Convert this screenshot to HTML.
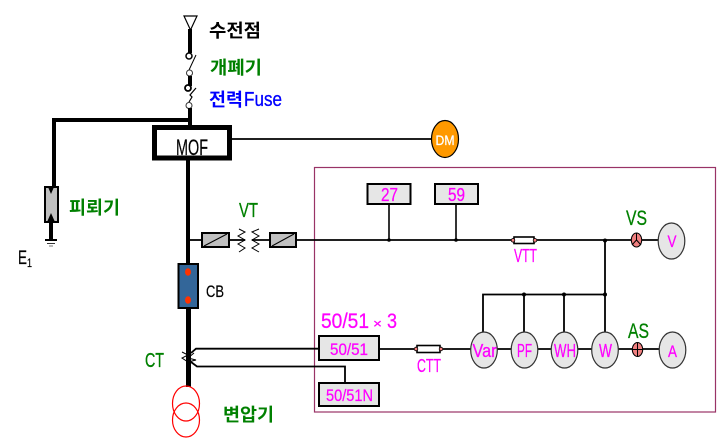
<!DOCTYPE html>
<html>
<head>
<meta charset="utf-8">
<style>
html,body{margin:0;padding:0;background:#fff;width:726px;height:443px;overflow:hidden}
svg{display:block}
text{font-family:"Liberation Sans","Noto Sans CJK KR",sans-serif}
.g{fill:#008000}
.gb{fill:#008000;font-weight:bold}
.m{fill:#ff00ff;stroke:#ff00ff;stroke-width:.25}
.k{fill:#000;stroke:#000;stroke-width:.2}
</style>
</head>
<body>
<svg width="726" height="443" viewBox="0 0 726 443" xmlns="http://www.w3.org/2000/svg">
<rect x="314.500" y="167.500" width="401" height="244.500" fill="none" stroke="#993366" stroke-width="1.200"/>

<!-- top feed -->
<polygon points="184,16 197,16 190.500,30" fill="#fff" stroke="#000" stroke-width="1.200"/>
<line x1="190" y1="29" x2="190" y2="53" stroke="#000" stroke-width="4"/>
<circle cx="189" cy="56" r="3" fill="#fff" stroke="#000" stroke-width="1.500"/>
<line x1="189" y1="70" x2="196" y2="55" stroke="#000" stroke-width="1"/>
<circle cx="189.500" cy="73" r="3" fill="#fff" stroke="#333" stroke-width="1"/>
<line x1="190" y1="76" x2="190" y2="86" stroke="#000" stroke-width="4"/>
<circle cx="188" cy="88" r="3" fill="#fff" stroke="#000" stroke-width="1.800"/>
<path d="M189 102 L192 97 L190 95 L196 88" fill="none" stroke="#000" stroke-width="1.200"/>
<circle cx="189" cy="105.500" r="3" fill="#fff" stroke="#333" stroke-width="1"/>
<line x1="190" y1="108" x2="190" y2="126" stroke="#000" stroke-width="4"/>

<!-- arrester feed -->
<path d="M190 120 H54 V187" fill="none" stroke="#000" stroke-width="4"/>
<rect x="45" y="187" width="13" height="35" fill="#c0c0c0" stroke="#000" stroke-width="2"/>
<polygon points="48,187 54,187 51,194" fill="#000"/>
<polygon points="47,222 55,222 51,213" fill="#000"/>
<line x1="51" y1="222" x2="51" y2="240" stroke="#000" stroke-width="4"/>
<line x1="45" y1="240" x2="57" y2="240" stroke="#000" stroke-width="2"/>
<line x1="47" y1="243.500" x2="55" y2="243.500" stroke="#333" stroke-width="1"/>
<line x1="49" y1="246" x2="53" y2="246" stroke="#777" stroke-width="1"/>

<!-- MOF -->
<rect x="154.500" y="127.500" width="75" height="30.500" fill="#fff" stroke="#000" stroke-width="5"/>
<line x1="231" y1="139" x2="433" y2="139" stroke="#000" stroke-width="1.800"/>
<ellipse cx="445" cy="139" rx="13.500" ry="18.500" fill="#ff9900" stroke="#000" stroke-width="1.200"/>

<!-- main line -->
<line x1="188" y1="160" x2="188" y2="265" stroke="#000" stroke-width="4"/>
<line x1="188.500" y1="308" x2="188.500" y2="387" stroke="#000" stroke-width="5"/>
<rect x="178.500" y="264" width="19.500" height="44" fill="#336699" stroke="#000" stroke-width="2"/>
<ellipse cx="188" cy="272" rx="3" ry="3.800" fill="#ff3300"/>
<ellipse cx="188" cy="300" rx="3" ry="3.800" fill="#ff3300"/>

<!-- VT -->
<line x1="188" y1="240" x2="202" y2="240" stroke="#000" stroke-width="1.800"/>
<rect x="202" y="233" width="27" height="14" fill="#c0c0c0" stroke="#000" stroke-width="2"/>
<line x1="204" y1="246" x2="227" y2="234" stroke="#000" stroke-width="1"/>
<line x1="229" y1="240" x2="245" y2="240" stroke="#000" stroke-width="1.800"/>
<path d="M239 229 L245 232 L238 236 L245 240 L238 244 L245 248 L239 252" fill="none" stroke="#000" stroke-width="1"/>
<path d="M259 229 L252 232 L259 236 L252 240 L259 244 L252 248 L259 252" fill="none" stroke="#000" stroke-width="1"/>
<line x1="252" y1="240" x2="270" y2="240" stroke="#000" stroke-width="1.800"/>
<rect x="270" y="233" width="26" height="14" fill="#c0c0c0" stroke="#000" stroke-width="2"/>
<line x1="272" y1="246" x2="294" y2="234" stroke="#000" stroke-width="1"/>

<!-- voltage bus -->
<line x1="296" y1="240" x2="660" y2="240" stroke="#000" stroke-width="1.800"/>
<line x1="389" y1="204" x2="389" y2="240" stroke="#000" stroke-width="1.600"/>
<line x1="456" y1="204" x2="456" y2="240" stroke="#000" stroke-width="1.600"/>
<circle cx="389" cy="240" r="1.800" fill="#000"/>
<circle cx="456" cy="240" r="1.800" fill="#000"/>
<rect x="367.500" y="184" width="43" height="20" fill="#e6e6e6" stroke="#000" stroke-width="2"/>
<rect x="435" y="184" width="43" height="20" fill="#e6e6e6" stroke="#000" stroke-width="2"/>
<rect x="514" y="237" width="20" height="6.500" fill="#fff" stroke="#000" stroke-width="1.600"/>
<circle cx="513" cy="240.300" r="1.800" fill="#f08080" stroke="#000" stroke-width=".8"/>
<circle cx="535" cy="240.300" r="1.800" fill="#f08080" stroke="#000" stroke-width=".8"/>

<line x1="605" y1="240" x2="605" y2="332" stroke="#000" stroke-width="1.800"/>
<circle cx="605" cy="240.500" r="2" fill="#000"/>
<path d="M483 332 V294.500 H605" fill="none" stroke="#000" stroke-width="1.800"/>
<line x1="524" y1="294" x2="524" y2="332" stroke="#000" stroke-width="1.800"/>
<line x1="564" y1="294" x2="564" y2="332" stroke="#000" stroke-width="1.800"/>
<circle cx="524" cy="294.500" r="2" fill="#000"/>
<circle cx="564" cy="294.500" r="2" fill="#000"/>
<circle cx="605" cy="294.500" r="2" fill="#000"/>

<!-- VS -->
<ellipse cx="636.500" cy="240" rx="5.200" ry="7" fill="#f08080" stroke="#000" stroke-width="1"/>
<path d="M636.500 240 V233 M636.500 240 L632 245 M636.500 240 L641 245" stroke="#000" stroke-width="1" fill="none"/>
<ellipse cx="671.500" cy="241" rx="13.300" ry="18" fill="#e6e6e6" stroke="#333" stroke-width="1.200"/>

<!-- current bus -->
<line x1="379" y1="349" x2="660" y2="349" stroke="#000" stroke-width="1.800"/>
<rect x="417" y="345.500" width="23" height="7" fill="#fff" stroke="#000" stroke-width="1.600"/>
<circle cx="416" cy="349" r="1.800" fill="#f08080" stroke="#000" stroke-width=".8"/>
<circle cx="441" cy="349" r="1.800" fill="#f08080" stroke="#000" stroke-width=".8"/>
<ellipse cx="484" cy="350" rx="13.300" ry="18" fill="#e6e6e6" stroke="#333" stroke-width="1.200"/>
<ellipse cx="524.500" cy="350" rx="13.300" ry="18" fill="#e6e6e6" stroke="#333" stroke-width="1.200"/>
<ellipse cx="564.500" cy="350" rx="13.300" ry="18" fill="#e6e6e6" stroke="#333" stroke-width="1.200"/>
<ellipse cx="605" cy="350" rx="13.300" ry="18" fill="#e6e6e6" stroke="#333" stroke-width="1.200"/>
<ellipse cx="672.500" cy="350" rx="13.300" ry="18" fill="#e6e6e6" stroke="#333" stroke-width="1.200"/>
<ellipse cx="637.500" cy="349.500" rx="5.200" ry="7" fill="#f08080" stroke="#000" stroke-width="1"/>
<path d="M637.500 342.500 V356.500 M632.300 349.500 H642.700" stroke="#000" stroke-width="1" fill="none"/>

<!-- CT -->
<path d="M182 352 L188 355 L182 358 L188 362 M194 353 L188 358 L196 360 L188 362" fill="none" stroke="#000" stroke-width="1"/>
<path d="M191 353 L196 348.700 H319" fill="none" stroke="#000" stroke-width="1.800"/>
<path d="M191 362 L197 366.500 H345 V383" fill="none" stroke="#000" stroke-width="1.800"/>
<rect x="319" y="336" width="60" height="24" fill="#e6e6e6" stroke="#000" stroke-width="2"/>
<rect x="319" y="383" width="60" height="23" fill="#e6e6e6" stroke="#000" stroke-width="2"/>

<!-- transformer -->
<ellipse cx="186" cy="403.500" rx="13.500" ry="17.500" fill="none" stroke="#ff0000" stroke-width="1.200"/>
<ellipse cx="186" cy="420" rx="13.500" ry="17" fill="none" stroke="#ff0000" stroke-width="1.200"/>

<!-- labels -->
<text x="209" y="37" fill="#000" font-weight="bold" font-size="18" textLength="52" lengthAdjust="spacingAndGlyphs">수전점</text>
<text x="210" y="74" class="gb" font-size="18" textLength="52" lengthAdjust="spacingAndGlyphs">개폐기</text>
<text x="209" y="106" fill="#0000ff" font-weight="bold" font-size="18" textLength="34" lengthAdjust="spacingAndGlyphs">전력</text>
<text x="244" y="106" fill="#0000ff" stroke="#0000ff" stroke-width=".3" font-size="20" textLength="38" lengthAdjust="spacingAndGlyphs">Fuse</text>
<text x="69" y="214" class="gb" font-size="18" textLength="51" lengthAdjust="spacingAndGlyphs">피뢰기</text>
<text x="223" y="421" class="gb" font-size="18" textLength="51" lengthAdjust="spacingAndGlyphs">변압기</text>
<text x="176" y="155" class="k" font-size="22" textLength="32" lengthAdjust="spacingAndGlyphs">MOF</text>
<text x="435.500" y="145" fill="#fff" stroke="#fff" stroke-width=".3" font-size="14" textLength="19" lengthAdjust="spacingAndGlyphs">DM</text>
<text x="18" y="264" class="k" font-size="19" textLength="9" lengthAdjust="spacingAndGlyphs">E</text>
<text x="27" y="267" class="k" font-size="12" textLength="5" lengthAdjust="spacingAndGlyphs">1</text>
<text x="239" y="217" class="g" stroke="#008000" stroke-width=".3" font-size="20" textLength="19" lengthAdjust="spacingAndGlyphs">VT</text>
<text x="206" y="297" class="k" font-size="17" textLength="18" lengthAdjust="spacingAndGlyphs">CB</text>
<text x="145" y="367" class="g" stroke="#008000" stroke-width=".3" font-size="20" textLength="19" lengthAdjust="spacingAndGlyphs">CT</text>
<text x="626" y="225" class="g" stroke="#008000" stroke-width=".3" font-size="21" textLength="21" lengthAdjust="spacingAndGlyphs">VS</text>
<text x="628" y="338" class="g" stroke="#008000" stroke-width=".3" font-size="21" textLength="21" lengthAdjust="spacingAndGlyphs">AS</text>
<text x="321" y="328" class="m" font-size="21" textLength="48" lengthAdjust="spacingAndGlyphs">50/51</text>
<text x="373" y="328" class="m" font-size="13" textLength="9" lengthAdjust="spacingAndGlyphs">×</text>
<text x="387" y="328" class="m" font-size="21" textLength="10" lengthAdjust="spacingAndGlyphs">3</text>
<text x="330" y="355" class="m" font-size="17" textLength="38" lengthAdjust="spacingAndGlyphs">50/51</text>
<text x="326" y="401" class="m" font-size="17" textLength="47" lengthAdjust="spacingAndGlyphs">50/51N</text>
<text x="381" y="201" class="m" font-size="18" textLength="17" lengthAdjust="spacingAndGlyphs">27</text>
<text x="448" y="201" class="m" font-size="18" textLength="17" lengthAdjust="spacingAndGlyphs">59</text>
<text x="514" y="262" class="m" font-size="18" textLength="23" lengthAdjust="spacingAndGlyphs">VTT</text>
<text x="417" y="372" class="m" font-size="18" textLength="24" lengthAdjust="spacingAndGlyphs">CTT</text>
<text x="472.500" y="357" class="m" font-size="18" textLength="24" lengthAdjust="spacingAndGlyphs">Var</text>
<text x="517" y="357" class="m" font-size="18" textLength="15" lengthAdjust="spacingAndGlyphs">PF</text>
<text x="554" y="357" class="m" font-size="18" textLength="22" lengthAdjust="spacingAndGlyphs">WH</text>
<text x="599" y="357" class="m" font-size="18" textLength="13" lengthAdjust="spacingAndGlyphs">W</text>
<text x="668" y="357" class="m" font-size="17" textLength="9" lengthAdjust="spacingAndGlyphs">A</text>
<text x="667.500" y="247" class="m" font-size="17" textLength="9" lengthAdjust="spacingAndGlyphs">V</text>
</svg>
</body>
</html>
